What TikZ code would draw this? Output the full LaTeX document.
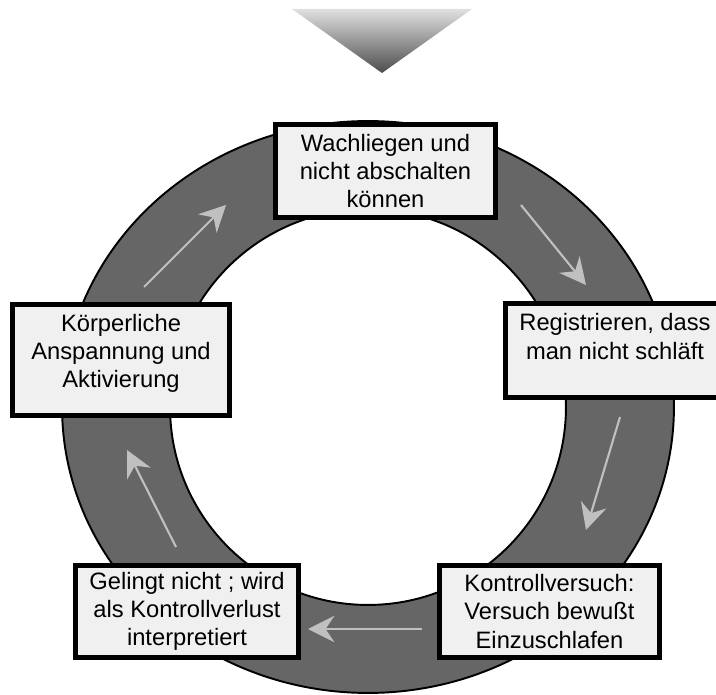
\documentclass[tikz,border=0pt]{standalone}
\usepackage{fontspec}
\setmainfont{Liberation Sans}
\usetikzlibrary{arrows.meta}
\definecolor{ringgray}{HTML}{666666}
\definecolor{boxgray}{HTML}{F0F0F0}
\definecolor{arrowgray}{HTML}{C0C0C0}

\begin{document}
\begin{tikzpicture}[x=0.02cm,y=-0.02cm]
  \tikzstyle{stage}=[draw=black,line width=2.8pt,fill=boxgray,align=center,
  inner sep=2pt,font=\fontsize{13.5}{16}\selectfont]
  \tikzstyle{flow}=[draw=arrowgray,line width=1.2pt,
  -{Stealth[length=15pt,width=15pt,inset=5pt]}]
  \useasboundingbox (0,0) rectangle (716,695);
  % funnel on top
  \shade[top color=black!12,bottom color=black!70] (292,9) -- (472,9) -- (382,73) -- cycle;
  % ring
  \path[fill=ringgray,draw=black,line width=1.1pt,even odd rule]
    (368,407) ellipse [x radius=6.12cm,y radius=5.72cm]
    (368,407) circle [radius=3.96cm];
  % stages
  \node[stage,minimum width=4.4cm,minimum height=1.86cm](W) at (385.5,171)
    {Wachliegen und\\nicht abschalten\\können};
  \node[stage,minimum width=4.38cm,minimum height=1.88cm](R) at (615,350.5)
    {Registrieren, dass\\man nicht schläft\\\mbox{}};
  \node[stage,minimum width=4.4cm,minimum height=1.84cm](K) at (549.5,611.5)
    {Kontrollversuch:\\Versuch bewußt\\Einzuschlafen};
  \node[stage,minimum width=4.46cm,minimum height=1.84cm](G) at (187,611.5)
    {Gelingt nicht ; wird\\als Kontrollverlust\\interpretiert};
  \node[stage,minimum width=4.34cm,minimum height=2.22cm](A) at (121,360)
    {Körperliche\\Anspannung und\\Aktivierung\\[-6pt]\mbox{}};
  % arrow ends
  \coordinate (w1) at (521,205);
  \coordinate (w2) at (586,285);
  \coordinate (r1) at (620,417);
  \coordinate (r2) at (586,530);
  \coordinate (k1) at (422,629);
  \coordinate (k2) at (308,629);
  \coordinate (g1) at (176,547);
  \coordinate (g2) at (127,450);
  \coordinate (a1) at (144,287);
  \coordinate (a2) at (226,205);
  \path[flow] (w1) -- (w2);
  \path[flow] (r1) -- (r2);
  \path[flow] (k1) -- (k2);
  \path[flow] (g1) -- (g2);
  \path[flow] (a1) -- (a2);
\end{tikzpicture}
\end{document}
